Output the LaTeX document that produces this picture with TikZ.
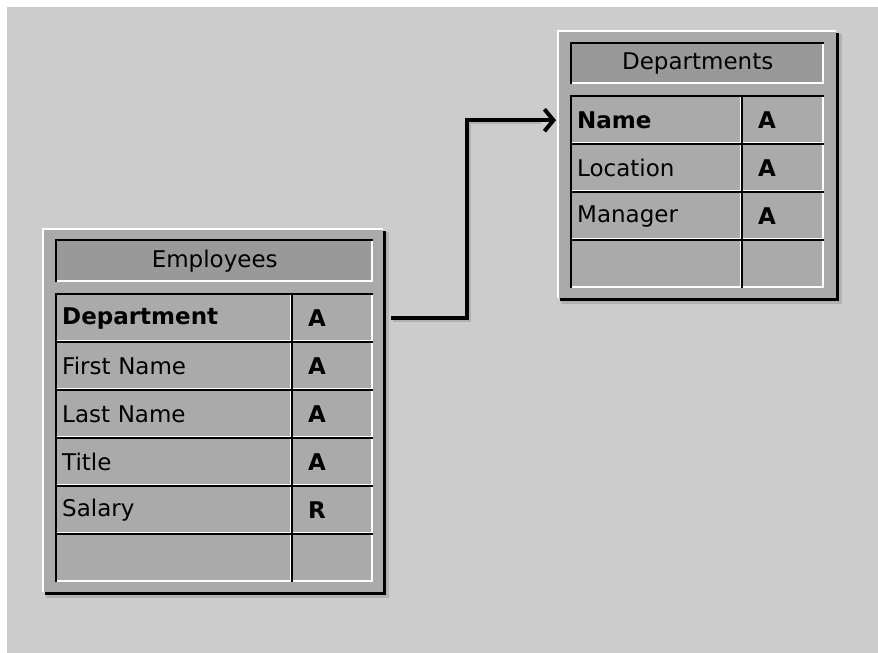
\documentclass[tikz,border=0pt]{standalone}
\usepackage{fontspec}
\setmainfont{DejaVu Sans}
\usetikzlibrary{arrows.meta}
\definecolor{bggray}{HTML}{CCCCCC}
\definecolor{panelgray}{HTML}{AAAAAA}
\definecolor{headgray}{HTML}{999999}
\definecolor{shadowgray}{HTML}{B2B2B2}
\tikzset{
  panelst/.style={rectangle, fill=panelgray, inner sep=0pt, anchor=north west},
  cellst/.style={rectangle, inner ysep=0pt, anchor=north west,
    font=\fontsize{23}{26}\selectfont},
  whiteedge/.style={draw=white, line width=2pt},
  blackedge/.style={draw=black, line width=2pt},
  connector/.style={draw=black, line width=4pt, -{Straight Barb[length=9pt,width=22pt]}},
  connshadow/.style={draw=shadowgray, line width=4pt},
}
% name, x, y, w, h
\newcommand\dbpanel[5]{%
  \fill[shadowgray] (#2+4,#3+4) rectangle (#2+#4+6,#3+#5+6);
  \fill[black] (#2+3,#3+3) rectangle (#2+#4+3,#3+#5+3);
  \node[panelst, minimum width=#4pt, minimum height=#5pt] (#1) at (#2,#3) {};
  \draw[whiteedge] ([xshift=1pt]#1.south west) -- ([xshift=1pt,yshift=-1pt]#1.north west) -- ([yshift=-1pt]#1.north east);
}
% name, x, y, w, h, xsep, fill, alignment, text
\newcommand\dbcell[9]{%
  \pgfmathsetmacro\dbtw{#4-2*#6}%
  \node[cellst, fill=#7, inner xsep=#6pt, minimum height=#5pt, text width=\dbtw pt, align=#8] (#1) at (#2,#3) {#9};
  \draw[whiteedge] ([xshift=1pt,yshift=1pt]#1.south west) -- ([xshift=-1pt,yshift=1pt]#1.south east) -- ([xshift=-1pt,yshift=-1pt]#1.north east);
  \draw[blackedge] (#1.south west) -- (#1.north west) -- (#1.north east);
}
\begin{document}
\begin{tikzpicture}[x=1pt,y=-1pt]
\fill[white] (0,0) rectangle (878,653);
\fill[bggray] (7,7) rectangle (878,653);
\useasboundingbox (0,0) rectangle (878,653);

% ---------- Employees ----------
\dbpanel{emppanel}{42}{228}{341}{364}
\dbcell{emphead}{56}{240}{317}{42}{0}{headgray}{center}{Employees}
\dbcell{edept}{56}{294}{236}{48}{6}{panelgray}{left}{\textbf{Department}}
\dbcell{edeptT}{292}{294}{81}{48}{16}{panelgray}{left}{\textbf{A}}
\dbcell{efirst}{56}{342}{236}{48}{6}{panelgray}{left}{First Name}
\dbcell{efirstT}{292}{342}{81}{48}{16}{panelgray}{left}{\textbf{A}}
\dbcell{elast}{56}{390}{236}{48}{6}{panelgray}{left}{Last Name}
\dbcell{elastT}{292}{390}{81}{48}{16}{panelgray}{left}{\textbf{A}}
\dbcell{etitle}{56}{438}{236}{48}{6}{panelgray}{left}{Title}
\dbcell{etitleT}{292}{438}{81}{48}{16}{panelgray}{left}{\textbf{A}}
\dbcell{esal}{56}{486}{236}{48}{6}{panelgray}{left}{Salary}
\dbcell{esalT}{292}{486}{81}{48}{16}{panelgray}{left}{\textbf{R}}
\dbcell{eempty}{56}{534}{236}{48}{6}{panelgray}{left}{}
\dbcell{eemptyT}{292}{534}{81}{48}{16}{panelgray}{left}{}

% ---------- Departments ----------
\dbpanel{deppanel}{557}{30}{279}{268}
\dbcell{dephead}{571}{43}{253}{41}{0}{headgray}{center}{Departments}
\dbcell{dname}{571}{96}{171}{48}{6}{panelgray}{left}{\textbf{Name}}
\dbcell{dnameT}{742}{96}{82}{48}{16}{panelgray}{left}{\textbf{A}}
\dbcell{dloc}{571}{144}{171}{48}{6}{panelgray}{left}{Location}
\dbcell{dlocT}{742}{144}{82}{48}{16}{panelgray}{left}{\textbf{A}}
\dbcell{dmgr}{571}{192}{171}{48}{6}{panelgray}{left}{Manager}
\dbcell{dmgrT}{742}{192}{82}{48}{16}{panelgray}{left}{\textbf{A}}
\dbcell{dempty}{571}{240}{171}{48}{6}{panelgray}{left}{}
\dbcell{demptyT}{742}{240}{82}{48}{16}{panelgray}{left}{}

% ---------- Connector ----------
\coordinate (cstart) at ([xshift=8pt]emppanel.east |- edept.center);
\coordinate (cend) at ([xshift=-1pt]deppanel.west |- dname.center);
\coordinate (cshs) at ([xshift=10pt,yshift=-2pt]emppanel.east |- edept.center);
\coordinate (cshe) at ([xshift=-16pt,yshift=-2pt]deppanel.west |- dname.center);
\draw[connshadow] (cshs) -- ++(76,0) |- (cshe);
\draw[connector] (cstart) -- ++(76,0) |- (cend);
\end{tikzpicture}
\end{document}
